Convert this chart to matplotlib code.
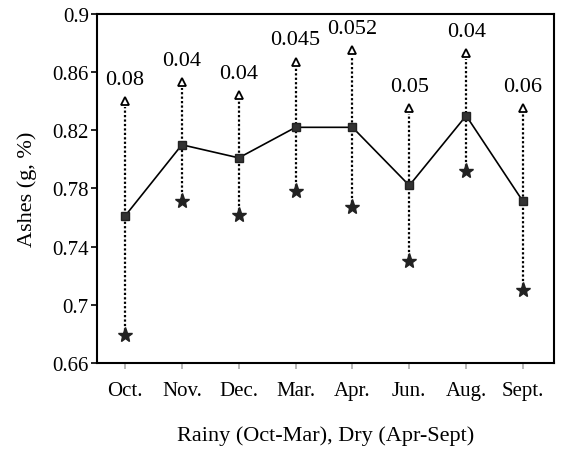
import matplotlib
matplotlib.use("Agg")
import matplotlib.pyplot as plt

months = ["Oct.", "Nov.", "Dec.", "Mar.", "Apr.", "Jun.", "Aug.", "Sept."]
mean_ash = [0.761, 0.810, 0.801, 0.822, 0.822, 0.782, 0.830, 0.771]
low_ash = [0.679, 0.771, 0.762, 0.778, 0.767, 0.730, 0.792, 0.710]
high_ash = [0.840, 0.853, 0.844, 0.867, 0.875, 0.835, 0.873, 0.835]
spread_labels = ["0.08", "0.04", "0.04", "0.045", "0.052", "0.05", "0.04", "0.06"]
y_ticks = [0.66, 0.7, 0.74, 0.78, 0.82, 0.86, 0.9]
y_tick_labels = ["0.66", "0.7", "0.74", "0.78", "0.82", "0.86", "0.9"]

plt.rcParams['font.family'] = ['Liberation Serif', 'DejaVu Serif']

fig = plt.figure(figsize=(5.75, 4.52), dpi=100)
ax = fig.add_axes([0.169, 0.195, 0.794, 0.772])

x = list(range(len(months)))

# dotted range lines from star up to the arrow head
for xi, lo, hi in zip(x, low_ash, high_ash):
    ax.plot([xi, xi], [lo, hi - 0.004], color='black', linestyle=(0, (1, 1)),
            linewidth=1.6, zorder=1)

ax.plot(x, high_ash, linestyle='none', marker='^', markersize=6,
        markerfacecolor='white', markeredgecolor='black', markeredgewidth=1.3, zorder=3)
ax.plot(x, low_ash, linestyle='none', marker='*', markersize=11,
        color='#222222', zorder=3)
ax.plot(x, mean_ash, color='black', linewidth=1.2, marker='s', markersize=6,
        markerfacecolor='#333333', markeredgecolor='#222222', zorder=4)

for xi, hi, lab in zip(x, high_ash, spread_labels):
    ax.annotate(lab, (xi, hi), xytext=(0, 9), textcoords='offset points',
                ha='center', va='bottom', fontsize=16)

ax.set_xlim(-0.49, 7.54)
ax.set_ylim(0.66, 0.9)
ax.set_xticks(x)
ax.set_xticklabels(months, fontsize=15)
ax.set_yticks(y_ticks)
ax.set_yticklabels(y_tick_labels, fontsize=15)
ax.tick_params(direction='out', length=4, width=1.2)
ax.tick_params(axis='y', pad=2)
ax.tick_params(axis='x', colors='#aaaaaa', labelcolor='black', pad=9)

for sp in ax.spines.values():
    sp.set_linewidth(1.5)

ax.set_ylabel("Ashes (g, %)", fontsize=16, labelpad=11)
ax.set_xlabel("Rainy (Oct-Mar), Dry (Apr-Sept)", fontsize=16, labelpad=18)

fig.savefig("out.png", dpi=100)
